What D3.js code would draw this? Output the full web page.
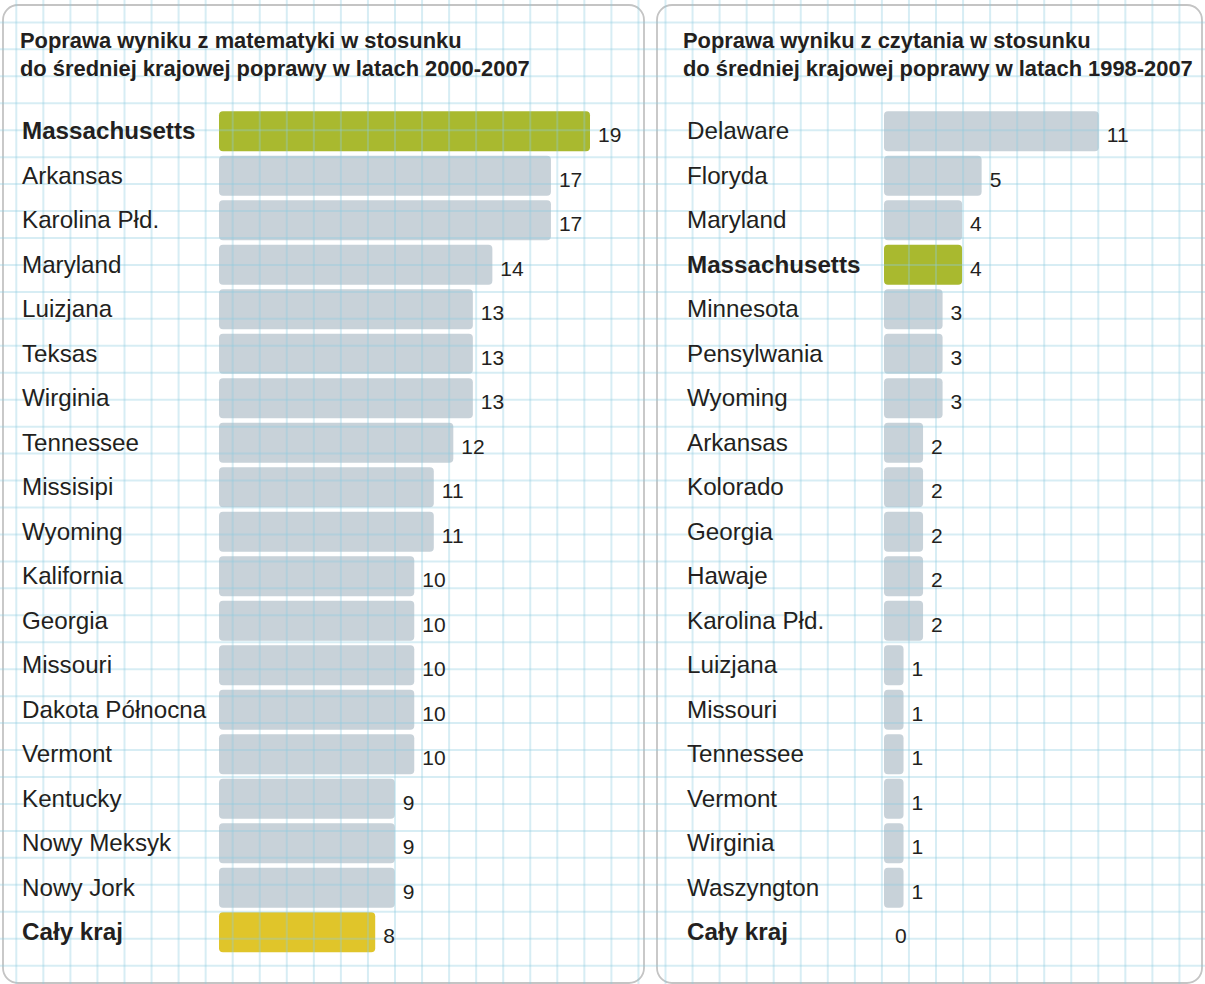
<!DOCTYPE html>
<html>
<head>
<meta charset="utf-8">
<script src="https://cdn.jsdelivr.net/npm/d3@7"></script>
<style>
  body { margin: 0; background: #fff; }
  svg { display: block; }
</style>
</head>
<body>
<svg id="chart" width="1205" height="984"></svg>
<script>
// math panel
var mathTitle = ["Poprawa wyniku z matematyki w stosunku", "do średniej krajowej poprawy w latach 2000-2007"];
var mathStates = ["Massachusetts", "Arkansas", "Karolina Płd.", "Maryland", "Luizjana", "Teksas", "Wirginia",
  "Tennessee", "Missisipi", "Wyoming", "Kalifornia", "Georgia", "Missouri", "Dakota Północna", "Vermont",
  "Kentucky", "Nowy Meksyk", "Nowy Jork", "Cały kraj"];
var mathValues = [19, 17, 17, 14, 13, 13, 13, 12, 11, 11, 10, 10, 10, 10, 10, 9, 9, 9, 8];

// reading panel
var readTitle = ["Poprawa wyniku z czytania w stosunku", "do średniej krajowej poprawy w latach 1998-2007"];
var readStates = ["Delaware", "Floryda", "Maryland", "Massachusetts", "Minnesota", "Pensylwania", "Wyoming",
  "Arkansas", "Kolorado", "Georgia", "Hawaje", "Karolina Płd.", "Luizjana", "Missouri", "Tennessee",
  "Vermont", "Wirginia", "Waszyngton", "Cały kraj"];
var readValues = [11, 5, 4, 4, 3, 3, 3, 2, 2, 2, 2, 2, 1, 1, 1, 1, 1, 1, 0];

var W = 1205, H = 984;
var FONT = "Liberation Sans";
var svg = d3.select("#chart");

var textCol = "#231f20";
function barColor(name) {
  if (name === "Massachusetts") return "#a9b92f";
  if (name === "Cały kraj") return "#e0c52a";
  return "#c8d2d9";
}
function isBold(name) { return name === "Massachusetts" || name === "Cały kraj"; }

// panels
var panels = [
  { x0: 3, x1: 644, labelX: 22, titleX: 20, barX: 219, states: mathStates, values: mathValues, title: mathTitle },
  { x0: 657, x1: 1202, labelX: 687, titleX: 683, barX: 884, states: readStates, values: readValues, title: readTitle }
];

var gBars = svg.append("g");
var gGrid = svg.append("g");
var gText = svg.append("g").attr("font-family", FONT);

panels.forEach(function (p) {
  gBars.append("rect")
    .attr("x", p.x0).attr("y", 5)
    .attr("width", p.x1 - p.x0).attr("height", 978)
    .attr("rx", 15)
    .attr("fill", "#fff")
    .attr("stroke", "#c4c4c4")
    .attr("stroke-width", 1.8);

  var y = d3.scaleBand()
    .domain(p.states)
    .range([109, 954.5])
    .paddingInner(0.1)
    .paddingOuter(0.05);
  var x = d3.scaleLinear().domain([0, 19]).range([p.barX, p.barX + 371]);

  gBars.selectAll(null)
    .data(p.states.map(function (s, i) { return { name: s, v: p.values[i] }; }).filter(function (d) { return d.v > 0; }))
    .join("rect")
    .attr("x", x(0))
    .attr("y", function (d) { return y(d.name); })
    .attr("width", function (d) { return x(d.v) - x(0); })
    .attr("height", y.bandwidth())
    .attr("rx", 4)
    .attr("fill", function (d) { return barColor(d.name); });

  // titles
  gText.selectAll(null)
    .data(p.title)
    .join("text")
    .attr("x", p.titleX)
    .attr("y", function (d, i) { return 48 + i * 28; })
    .attr("font-family", FONT)
    .attr("font-size", 21.9)
    .attr("font-weight", "bold")
    .attr("fill", textCol)
    .text(function (d) { return d; });

  // state labels
  gText.selectAll(null)
    .data(p.states)
    .join("text")
    .attr("x", p.labelX)
    .attr("y", function (d) { return y(d) + y.bandwidth() / 2 + 8; })
    .attr("font-family", FONT)
    .attr("font-size", 24.2)
    .attr("font-weight", function (d) { return isBold(d) ? "bold" : "normal"; })
    .attr("fill", textCol)
    .text(function (d) { return d; });

  // value labels
  gText.selectAll(null)
    .data(p.values)
    .join("text")
    .attr("x", function (d) { return x(d) + (d > 0 ? 8 : 11); })
    .attr("y", function (d, i) { return y(p.states[i]) + y.bandwidth() / 2 + 11; })
    .attr("font-family", FONT)
    .attr("font-size", 21)
    .attr("fill", textCol)
    .text(function (d) { return d; });
});

// squared paper grid
var vx = d3.range(16.3 - 27.05, W, 27.05);
var hy = d3.range(22.4 - 26.95, H, 26.95);
gGrid.selectAll(".v")
  .data(vx)
  .join("line")
  .attr("class", "v")
  .attr("x1", function (d) { return d; })
  .attr("x2", function (d) { return d; })
  .attr("y1", 0).attr("y2", H)
  .attr("stroke", "#8ccbe0")
  .attr("stroke-opacity", 0.35)
  .attr("stroke-width", 2);
gGrid.selectAll(".h")
  .data(hy)
  .join("line")
  .attr("class", "h")
  .attr("x1", 0).attr("x2", W)
  .attr("y1", function (d) { return d; })
  .attr("y2", function (d) { return d; })
  .attr("stroke", "#8ccbe0")
  .attr("stroke-opacity", 0.35)
  .attr("stroke-width", 2);
</script>
</body>
</html>
